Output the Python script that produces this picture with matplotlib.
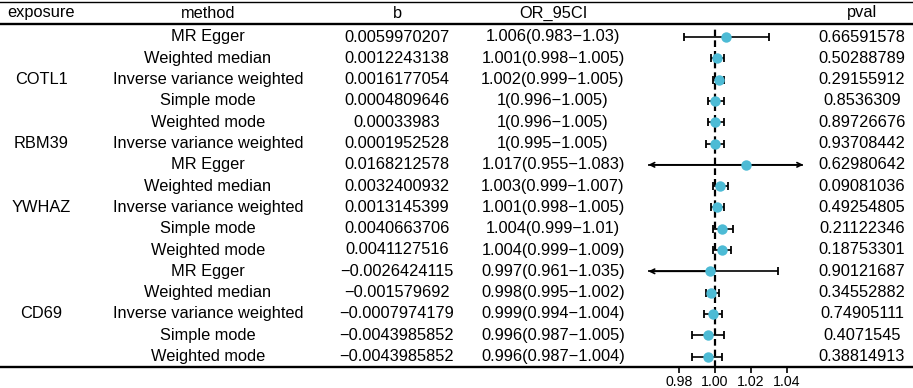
import numpy as np
import matplotlib
matplotlib.use('Agg')
from matplotlib import pyplot as plt

plt.rcParams['font.family'] = ['Liberation Sans', 'DejaVu Sans']

exposure = ['', '', 'COTL1', '', '', 'RBM39', '', '', 'YWHAZ', '', '', '', '', 'CD69', '', '']
method = ['MR Egger', 'Weighted median', 'Inverse variance weighted', 'Simple mode', 'Weighted mode',
          'Inverse variance weighted',
          'MR Egger', 'Weighted median', 'Inverse variance weighted', 'Simple mode', 'Weighted mode',
          'MR Egger', 'Weighted median', 'Inverse variance weighted', 'Simple mode', 'Weighted mode']
b = ['0.0059970207', '0.0012243138', '0.0016177054', '0.0004809646', '0.00033983',
     '0.0001952528',
     '0.0168212578', '0.0032400932', '0.0013145399', '0.0040663706', '0.0041127516',
     '\u22120.0026424115', '\u22120.001579692', '\u22120.0007974179', '\u22120.0043985852', '\u22120.0043985852']
odds = [1.006, 1.001, 1.002, 1.0, 1.0,
        1.0,
        1.017, 1.003, 1.001, 1.004, 1.004,
        0.997, 0.998, 0.999, 0.996, 0.996]
lower = [0.983, 0.998, 0.999, 0.996, 0.996,
         0.995,
         0.955, 0.999, 0.998, 0.999, 0.999,
         0.961, 0.995, 0.994, 0.987, 0.987]
upper = [1.03, 1.005, 1.005, 1.005, 1.005,
         1.005,
         1.083, 1.007, 1.005, 1.01, 1.009,
         1.035, 1.002, 1.004, 1.005, 1.004]
or_ci = ['1.006(0.983\u22121.03)', '1.001(0.998\u22121.005)', '1.002(0.999\u22121.005)', '1(0.996\u22121.005)', '1(0.996\u22121.005)',
         '1(0.995\u22121.005)',
         '1.017(0.955\u22121.083)', '1.003(0.999\u22121.007)', '1.001(0.998\u22121.005)', '1.004(0.999\u22121.01)', '1.004(0.999\u22121.009)',
         '0.997(0.961\u22121.035)', '0.998(0.995\u22121.002)', '0.999(0.994\u22121.004)', '0.996(0.987\u22121.005)', '0.996(0.987\u22121.004)']
pval = ['0.66591578', '0.50288789', '0.29155912', '0.8536309', '0.89726676',
        '0.93708442',
        '0.62980642', '0.09081036', '0.49254805', '0.21122346', '0.18753301',
        '0.90121687', '0.34552882', '0.74905111', '0.4071545', '0.38814913']
ticks = [0.98, 1.00, 1.02, 1.04]

W, H = 913, 388
fig = plt.figure(figsize=(W / 100, H / 100), dpi=100)

# table layer in pixel units
tab = fig.add_axes([0, 0, 1, 1])
tab.set_xlim(0, W)
tab.set_ylim(H, 0)
tab.axis('off')

row0, pitch = 37, 21.3
fs = 11.8
cols = [('exposure', exposure, 41), ('method', method, 208), ('b', b, 397),
        ('OR_95CI', or_ci, 553), ('pval', pval, 862)]
for head, vals, cx in cols:
    tab.text(cx, 13, head, ha='center', va='center', fontsize=fs)
    for i, v in enumerate(vals):
        tab.text(cx, row0 + i * pitch, v, ha='center', va='center', fontsize=fs)

tab.plot([0, W], [2, 2], color='black', lw=1.0)
tab.plot([0, W], [24, 24], color='black', lw=1.7)
tab.plot([0, W], [367, 367], color='black', lw=1.7)

# forest layer
xmin, xmax = 0.963, 1.049
scale = 1800.0
x_ref = 715
left = x_ref - (1 - xmin) * scale
right = x_ref + (xmax - 1) * scale
top_px, bot_px = 24, 367
ax = fig.add_axes([left / W, 1 - bot_px / H, (right - left) / W, (bot_px - top_px) / H])
ax.set_xlim(xmin, xmax)
ax.set_ylim((bot_px - row0) / pitch, (top_px - row0) / pitch)
ax.patch.set_alpha(0)
for s in ax.spines.values():
    s.set_visible(False)
ax.set_yticks([])
ax.set_xticks(ticks)
ax.set_xticklabels(['%.2f' % t for t in ticks], fontsize=10.2)
ax.tick_params(axis='x', direction='out', length=4, width=1.2, pad=2)

ax.axvline(1.0, ymin=0, ymax=0.985, color='black', lw=1.6, ls=(0, (3, 1.8)), zorder=1)

for i in range(len(odds)):
    lo = max(lower[i], xmin)
    hi = min(upper[i], xmax)
    ax.plot([lo, hi], [i, i], color='black', lw=1.2, zorder=2, solid_capstyle='butt')
    if lower[i] >= xmin:
        ax.plot([lower[i]], [i], marker='|', ms=5.5, mew=1.3, color='black', zorder=2)
    else:
        ax.annotate('', xy=(xmin, i), xytext=(odds[i], i),
                    arrowprops=dict(arrowstyle='->', lw=1.2, color='black',
                                    mutation_scale=8, shrinkA=0, shrinkB=0), zorder=2)
    if upper[i] <= xmax:
        ax.plot([upper[i]], [i], marker='|', ms=5.5, mew=1.3, color='black', zorder=2)
    else:
        ax.annotate('', xy=(xmax, i), xytext=(odds[i], i),
                    arrowprops=dict(arrowstyle='->', lw=1.2, color='black',
                                    mutation_scale=8, shrinkA=0, shrinkB=0), zorder=2)

ax.plot(odds, range(len(odds)), 'o', color='#4DBBD5', ms=7.5, mew=0, zorder=3)

fig.savefig('out.png', dpi=100)
